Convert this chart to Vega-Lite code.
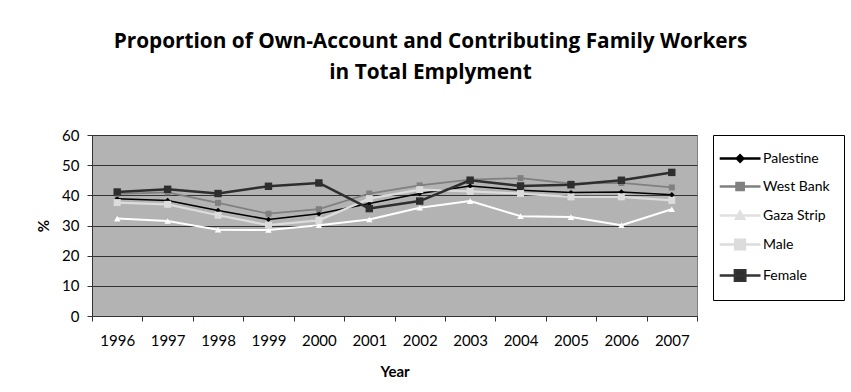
{
  "$schema": "https://vega.github.io/schema/vega-lite/v6.json",
  "width": 605,
  "height": 181,
  "autosize": {"type": "none"},
  "padding": {"left": 92, "top": 135, "right": 154, "bottom": 76},
  "background": "white",
  "title": {
    "text": ["Proportion of Own-Account and Contributing Family Workers", "in Total Emplyment"],
    "font": "Open Sans",
    "fontSize": 20.8,
    "fontWeight": "bold",
    "lineHeight": 31,
    "color": "#000000",
    "anchor": "middle",
    "frame": "group",
    "dx": 36,
    "offset": 44
  },
  "data": {
    "values": [
      {"year": "1996", "series": "Palestine", "value": 38.9},
      {"year": "1997", "series": "Palestine", "value": 38.3},
      {"year": "1998", "series": "Palestine", "value": 35.0},
      {"year": "1999", "series": "Palestine", "value": 32.0},
      {"year": "2000", "series": "Palestine", "value": 33.9},
      {"year": "2001", "series": "Palestine", "value": 37.3},
      {"year": "2002", "series": "Palestine", "value": 40.6},
      {"year": "2003", "series": "Palestine", "value": 43.1},
      {"year": "2004", "series": "Palestine", "value": 41.7},
      {"year": "2005", "series": "Palestine", "value": 40.9},
      {"year": "2006", "series": "Palestine", "value": 41.1},
      {"year": "2007", "series": "Palestine", "value": 40.2},
      {"year": "1996", "series": "West Bank", "value": 40.5},
      {"year": "1997", "series": "West Bank", "value": 41.0},
      {"year": "1998", "series": "West Bank", "value": 37.5},
      {"year": "1999", "series": "West Bank", "value": 33.9},
      {"year": "2000", "series": "West Bank", "value": 35.4},
      {"year": "2001", "series": "West Bank", "value": 40.6},
      {"year": "2002", "series": "West Bank", "value": 43.3},
      {"year": "2003", "series": "West Bank", "value": 45.2},
      {"year": "2004", "series": "West Bank", "value": 45.7},
      {"year": "2005", "series": "West Bank", "value": 43.9},
      {"year": "2006", "series": "West Bank", "value": 44.1},
      {"year": "2007", "series": "West Bank", "value": 42.6},
      {"year": "1996", "series": "Gaza Strip", "value": 32.3},
      {"year": "1997", "series": "Gaza Strip", "value": 31.5},
      {"year": "1998", "series": "Gaza Strip", "value": 28.6},
      {"year": "1999", "series": "Gaza Strip", "value": 28.5},
      {"year": "2000", "series": "Gaza Strip", "value": 30.1},
      {"year": "2001", "series": "Gaza Strip", "value": 32.0},
      {"year": "2002", "series": "Gaza Strip", "value": 35.9},
      {"year": "2003", "series": "Gaza Strip", "value": 38.1},
      {"year": "2004", "series": "Gaza Strip", "value": 33.1},
      {"year": "2005", "series": "Gaza Strip", "value": 32.8},
      {"year": "2006", "series": "Gaza Strip", "value": 30.1},
      {"year": "2007", "series": "Gaza Strip", "value": 35.4},
      {"year": "1996", "series": "Male", "value": 37.6},
      {"year": "1997", "series": "Male", "value": 37.0},
      {"year": "1998", "series": "Male", "value": 33.4},
      {"year": "1999", "series": "Male", "value": 30.1},
      {"year": "2000", "series": "Male", "value": 31.7},
      {"year": "2001", "series": "Male", "value": 38.9},
      {"year": "2002", "series": "Male", "value": 41.9},
      {"year": "2003", "series": "Male", "value": 41.3},
      {"year": "2004", "series": "Male", "value": 40.6},
      {"year": "2005", "series": "Male", "value": 39.5},
      {"year": "2006", "series": "Male", "value": 39.5},
      {"year": "2007", "series": "Male", "value": 38.3},
      {"year": "1996", "series": "Female", "value": 41.1},
      {"year": "1997", "series": "Female", "value": 42.0},
      {"year": "1998", "series": "Female", "value": 40.6},
      {"year": "1999", "series": "Female", "value": 43.0},
      {"year": "2000", "series": "Female", "value": 44.1},
      {"year": "2001", "series": "Female", "value": 35.6},
      {"year": "2002", "series": "Female", "value": 38.1},
      {"year": "2003", "series": "Female", "value": 45.0},
      {"year": "2004", "series": "Female", "value": 43.1},
      {"year": "2005", "series": "Female", "value": 43.5},
      {"year": "2006", "series": "Female", "value": 45.0},
      {"year": "2007", "series": "Female", "value": 47.6}
    ]
  },
  "encoding": {
    "x": {
      "field": "year",
      "type": "ordinal",
      "bandPosition": 0.5,
      "scale": {"type": "band", "paddingInner": 0, "paddingOuter": 0},
      "axis": {
        "title": "Year",
        "labelAngle": 0,
        "tickBand": "extent",
        "grid": false,
        "domainColor": "#333333",
        "tickColor": "#333333",
        "tickSize": 5,
        "labelPadding": 12,
        "labelFont": "Lato",
        "labelFontSize": 15,
        "labelColor": "#000000",
        "titleFont": "Lato",
        "titleFontSize": 15,
        "titleFontWeight": "bold",
        "titleColor": "#000000",
        "titlePadding": 16
      }
    },
    "y": {
      "field": "value",
      "type": "quantitative",
      "scale": {"domain": [0, 60], "nice": false},
      "axis": {
        "title": "%",
        "values": [0, 10, 20, 30, 40, 50, 60],
        "grid": true,
        "gridColor": "#333333",
        "gridWidth": 1,
        "domainColor": "#333333",
        "tickColor": "#333333",
        "tickSize": 5,
        "labelPadding": 8,
        "labelFont": "Lato",
        "labelFontSize": 15,
        "labelColor": "#000000",
        "titleFont": "Lato",
        "titleFontSize": 15,
        "titleFontWeight": "bold",
        "titleColor": "#000000",
        "titlePadding": 10
      }
    }
  },
  "layer": [
    {
      "mark": {"type": "line", "strokeJoin": "round"},
      "encoding": {
        "color": {
          "field": "series",
          "type": "nominal",
          "scale": {
            "domain": ["Palestine", "West Bank", "Gaza Strip", "Male", "Female"],
            "range": ["#000000", "#808080", "#ffffff", "#dcdcdc", "#2e2e2e"]
          },
          "legend": null
        },
        "strokeWidth": {
          "field": "series",
          "type": "nominal",
          "scale": {
            "domain": ["Palestine", "West Bank", "Gaza Strip", "Male", "Female"],
            "range": [1.5, 2.5, 3, 3, 3]
          },
          "legend": null
        }
      }
    },
    {
      "mark": {"type": "point", "filled": true, "opacity": 1},
      "encoding": {
        "color": {
          "field": "series",
          "type": "nominal",
          "scale": {
            "domain": ["Palestine", "West Bank", "Gaza Strip", "Male", "Female"],
            "range": ["#000000", "#808080", "#ffffff", "#dcdcdc", "#2e2e2e"]
          },
          "legend": null
        },
        "shape": {
          "field": "series",
          "type": "nominal",
          "scale": {
            "domain": ["Palestine", "West Bank", "Gaza Strip", "Male", "Female"],
            "range": ["diamond", "square", "triangle-up", "square", "square"]
          },
          "legend": null
        },
        "size": {
          "field": "series",
          "type": "nominal",
          "scale": {
            "domain": ["Palestine", "West Bank", "Gaza Strip", "Male", "Female"],
            "range": [30, 55, 75, 100, 120]
          },
          "legend": null
        }
      }
    },
    {
      "mark": {"type": "point", "opacity": 0, "strokeWidth": 2.5},
      "encoding": {
        "fill": {
          "field": "series",
          "type": "nominal",
          "scale": {
            "domain": ["Palestine", "West Bank", "Gaza Strip", "Male", "Female"],
            "range": ["#000000", "#808080", "#e0e0e0", "#dcdcdc", "#2e2e2e"]
          },
          "legend": {
            "title": null,
            "orient": "right",
            "offset": 16,
            "padding": 14,
            "strokeColor": "#000000",
            "fillColor": "#ffffff",
            "labelFont": "Lato",
            "labelFontSize": 14,
            "labelColor": "#000000",
            "labelOffset": 17,
            "symbolSize": 256,
            "symbolOpacity": 1,
            "symbolStrokeWidth": 2.5,
            "rowPadding": 10,
            "labelLimit": 200
          }
        },
        "stroke": {
          "field": "series",
          "type": "nominal",
          "scale": {
            "domain": ["Palestine", "West Bank", "Gaza Strip", "Male", "Female"],
            "range": ["#000000", "#808080", "#e0e0e0", "#dcdcdc", "#333333"]
          },
          "legend": {
            "title": null,
            "orient": "right",
            "offset": 16,
            "padding": 14,
            "strokeColor": "#000000",
            "fillColor": "#ffffff",
            "labelFont": "Lato",
            "labelFontSize": 14,
            "labelColor": "#000000",
            "labelOffset": 17,
            "symbolSize": 256,
            "symbolOpacity": 1,
            "symbolStrokeWidth": 2.5,
            "rowPadding": 10,
            "labelLimit": 200
          }
        },
        "shape": {
          "field": "series",
          "type": "nominal",
          "scale": {
            "domain": ["Palestine", "West Bank", "Gaza Strip", "Male", "Female"],
            "range": [
              "M-2.1,0H3M0.05,0L0.45,-0.4L0.85,0L0.45,0.4Z",
              "M-2.1,0H3M0,-0.45H0.9V0.45H0Z",
              "M-2.1,0H3M0.45,-0.5L0.95,0.4H-0.05Z",
              "M-2.1,0H3M-0.15,-0.6H1.05V0.6H-0.15Z",
              "M-2.1,0H3M-0.2,-0.65H1.1V0.65H-0.2Z"
            ]
          },
          "legend": {
            "title": null,
            "orient": "right",
            "offset": 16,
            "padding": 14,
            "strokeColor": "#000000",
            "fillColor": "#ffffff",
            "labelFont": "Lato",
            "labelFontSize": 14,
            "labelColor": "#000000",
            "labelOffset": 17,
            "symbolSize": 256,
            "symbolOpacity": 1,
            "symbolStrokeWidth": 2.5,
            "rowPadding": 10,
            "labelLimit": 200
          }
        }
      }
    }
  ],
  "resolve": {
    "scale": {"shape": "independent", "fill": "independent", "stroke": "independent", "color": "shared"},
    "legend": {"shape": "independent", "color": "independent"}
  },
  "config": {
    "view": {"fill": "#b3b3b3", "stroke": "#808080"},
    "font": "Lato"
  }
}
